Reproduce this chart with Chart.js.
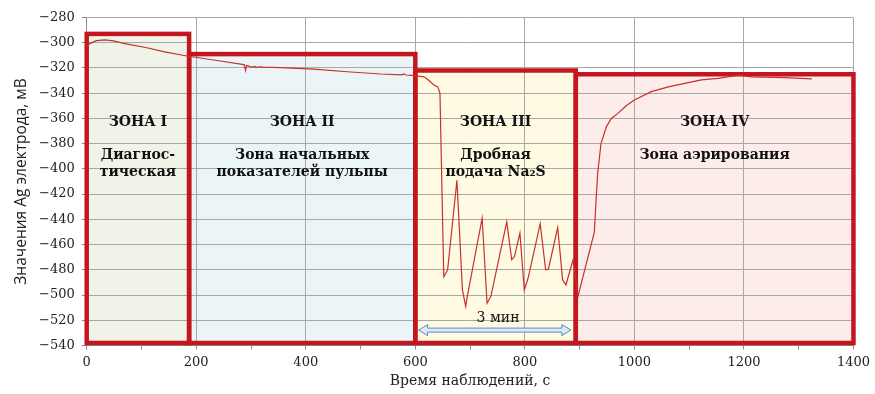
<!DOCTYPE html>
<html><head><meta charset="utf-8">
<script src="https://cdn.jsdelivr.net/npm/chart.js@4.4.1/dist/chart.umd.min.js"></script>
<style>html,body{margin:0;padding:0;background:#fff;}canvas{display:block;}</style>
</head><body>
<canvas id="c" width="875" height="394"></canvas>
<script>
// ---- data ----
const timeSec = [0, 6, 18, 33, 49, 67, 110, 140, 183, 232, 281, 288, 290, 292, 296, 301, 306, 311, 316, 322, 354, 415, 476, 537, 575, 579, 583, 598, 616, 625, 634, 641, 645, 652, 659, 676, 686, 692, 695, 722, 731, 738, 767, 776, 781, 791, 799, 806, 828, 838, 843, 860, 869, 875, 888, 897, 927, 930, 933, 939, 949, 958, 970, 985, 1000, 1031, 1062, 1092, 1122, 1153, 1190, 1214, 1275, 1324];
const agMv = [-303, -300.5, -298.4, -297.8, -298.6, -300.5, -304, -307, -310.5, -313.7, -316.9, -317.5, -322, -318, -318.5, -319.5, -318.8, -319.5, -319.2, -319.4, -319.8, -321, -323, -324.8, -325.4, -324.8, -325.6, -326, -327, -330, -333.5, -335, -340, -485.5, -480, -409, -496, -509, -501, -439, -506.5, -501, -442, -472, -469.5, -451, -496, -486.5, -443.5, -480, -479.5, -446.5, -488, -492, -472, -501, -450, -425, -403.5, -380, -366.5, -360, -356, -350, -345.4, -338.8, -335, -332.2, -329.5, -328.2, -325.8, -327, -327.7, -328.7];

const zoneStart = [0, 187, 600, 893];
const zoneEnd = [187, 600, 893, 1400];
const zoneTop = [-293, -309, -322, -325];
const zoneFloor = -538;
const zoneNames = ['ЗОНА I', 'ЗОНА II', 'ЗОНА III', 'ЗОНА IV'];
const zoneNotes = [['Диагнос-', 'тическая'], ['Зона начальных', 'показателей пульпы'], ['Дробная', 'подача Na₂S'], ['Зона аэрирования']];
const spanStart = 606, spanEnd = 884, spanLabel = '3 мин';

const xTickLabels = [0, 200, 400, 600, 800, 1000, 1200, 1400];
const yMin = -540, yMax = -280, yStep = 20;

// ---- styles ----
const zoneFills = ['#eff3e8', '#ebf5f8', '#fefbe2', '#fcecea'];
const borderRed = '#c3161f';
const gridGrey = '#a8a8a8';

const zonePlugin = {
  id: 'zones',
  beforeDraw(chart) {
    const {ctx, scales: {x, y}} = chart;
    ctx.save();
    for (let i = 0; i < zoneStart.length; i++) {
      const l = x.getPixelForValue(zoneStart[i]), r = x.getPixelForValue(zoneEnd[i]);
      const t = y.getPixelForValue(zoneTop[i]), b = y.getPixelForValue(zoneFloor);
      ctx.fillStyle = zoneFills[i];
      ctx.fillRect(l, t, r - l, b - t);
    }
    ctx.restore();
  },
  beforeDatasetsDraw(chart) {
    const {ctx, scales: {x, y}} = chart;
    ctx.save();
    ctx.strokeStyle = borderRed;
    ctx.lineWidth = 4.5;
    ctx.lineJoin = 'miter';
    for (let i = 0; i < zoneStart.length; i++) {
      const l = x.getPixelForValue(zoneStart[i]), r = x.getPixelForValue(zoneEnd[i]);
      const t = y.getPixelForValue(zoneTop[i]), b = y.getPixelForValue(zoneFloor);
      ctx.strokeRect(l, t, r - l, b - t);
    }
    // texts
    ctx.fillStyle = '#111';
    ctx.textAlign = 'center';
    ctx.textBaseline = 'middle';
    ctx.font = 'bold 14px "DejaVu Serif"';
    for (let i = 0; i < zoneStart.length; i++) {
      const cx = x.getPixelForValue((zoneStart[i] + zoneEnd[i]) / 2);
      ctx.fillText(zoneNames[i], cx, y.getPixelForValue(-363));
      const lines = zoneNotes[i];
      const ys = lines.length === 1 ? [-389] : [-389.5, -402.5];
      lines.forEach((ln, k) => ctx.fillText(ln, cx, y.getPixelForValue(ys[k])));
    }
    // arrow
    const a1 = x.getPixelForValue(spanStart), a2 = x.getPixelForValue(spanEnd), ay = y.getPixelForValue(-527.8);
    const sh = 2, hh = 5.5, hl = 9;
    ctx.beginPath();
    ctx.moveTo(a1, ay);
    ctx.lineTo(a1 + hl, ay - hh);
    ctx.lineTo(a1 + hl, ay - sh);
    ctx.lineTo(a2 - hl, ay - sh);
    ctx.lineTo(a2 - hl, ay - hh);
    ctx.lineTo(a2, ay);
    ctx.lineTo(a2 - hl, ay + hh);
    ctx.lineTo(a2 - hl, ay + sh);
    ctx.lineTo(a1 + hl, ay + sh);
    ctx.lineTo(a1 + hl, ay + hh);
    ctx.closePath();
    ctx.fillStyle = '#dce9f7';
    ctx.fill();
    ctx.strokeStyle = '#5a8ac6';
    ctx.lineWidth = 1;
    ctx.stroke();
    ctx.fillStyle = '#111';
    ctx.font = '14px "DejaVu Serif"';
    ctx.fillText(spanLabel, x.getPixelForValue(751), y.getPixelForValue(-518.2));
    ctx.restore();
  }
};

const points = timeSec.map((t, i) => ({x: t, y: agMv[i]}));

new Chart(document.getElementById('c'), {
  type: 'line',
  data: {
    datasets: [{
      data: points,
      borderColor: '#c8302c',
      borderWidth: 1.2,
      pointRadius: 0,
      tension: 0,
      fill: false
    }]
  },
  options: {
    responsive: false,
    animation: false,
    devicePixelRatio: 1,
    layout: {padding: {left: 8, right: 11, top: 17.5, bottom: 0}},
    plugins: {legend: {display: false}, tooltip: {enabled: false}},
    scales: {
      x: {
        type: 'linear',
        min: 0, max: 1400,
        afterFit(s) { s.height = 48.5; },
        ticks: {
          stepSize: 100, autoSkip: false, maxRotation: 0, padding: 5,
          color: '#222', font: {family: '"DejaVu Serif"', size: 13},
          callback: v => xTickLabels.includes(v) ? String(v) : ''
        },
        grid: {
          color: ctx => (ctx.tick && ctx.tick.value % 200 === 0) ? gridGrey : 'rgba(0,0,0,0)',
          tickColor: '#8c8c8c', tickLength: 4, lineWidth: 1
        },
        border: {color: '#8c8c8c'},
        title: {display: true, text: 'Время наблюдений, с', color: '#222',
          font: {family: '"DejaVu Serif"', size: 14}, padding: {top: 0, bottom: 4}}
      },
      y: {
        min: yMin, max: yMax,
        afterFit(s) { s.width = 78.7; },
        ticks: {
          stepSize: yStep, padding: 7, color: '#222',
          font: {family: '"DejaVu Serif"', size: 13},
          callback: v => v < 0 ? '\u2212' + Math.abs(v) : String(v)
        },
        grid: {color: gridGrey, tickColor: '#8c8c8c', tickLength: 5, lineWidth: 1},
        border: {color: '#8c8c8c'},
        title: {display: true, text: 'Значения Ag электрода, мВ', color: '#222',
          font: {family: '"Open Sans"', size: 15.5}, padding: {top: 4, bottom: 0}}
      }
    }
  },
  plugins: [zonePlugin]
});
</script>
</body></html>
